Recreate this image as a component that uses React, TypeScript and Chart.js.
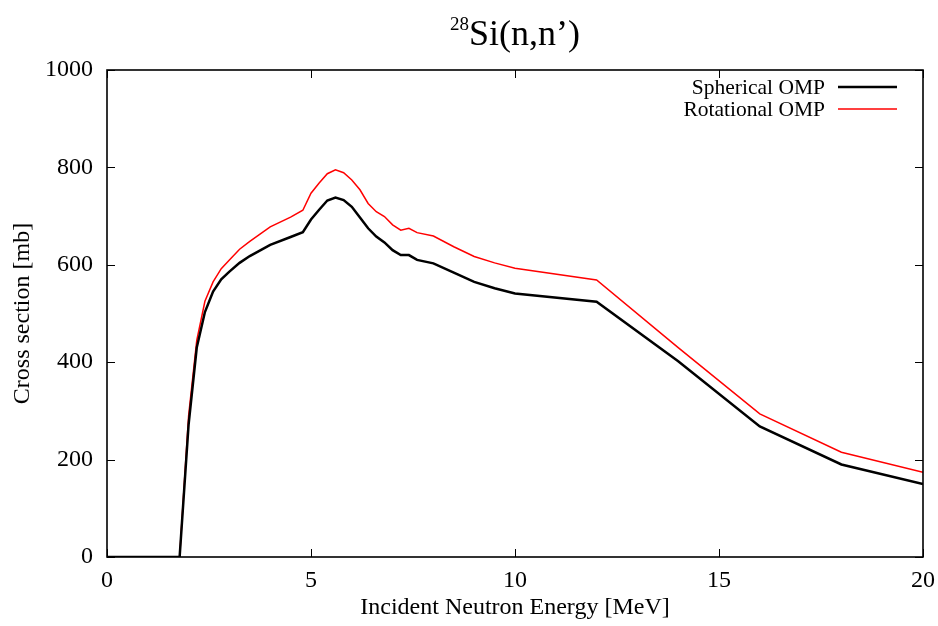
import React, { useEffect, useRef } from "react";
import { Chart, registerables } from "chart.js";

Chart.register(...registerables);

const energies = [0, 1.78, 2.0, 2.2, 2.4, 2.6, 2.8, 3.0, 3.25, 3.5, 4.0, 4.5, 4.8, 5.0, 5.2, 5.4, 5.6, 5.8, 6.0, 6.2, 6.4, 6.6, 6.8, 7.0, 7.2, 7.4, 7.6, 8.0, 8.5, 9.0, 9.5, 10, 12, 14, 16, 18, 20];
const spherical = [0, 0, 272, 430, 503, 545, 570, 586, 604, 618, 641, 657, 667, 693, 713, 732, 738, 733, 719, 697, 675, 658, 646, 630, 620, 620, 610, 603, 584, 565, 552, 541, 524, 402, 268, 190, 150];
const rotational = [0, 0, 290, 445, 525, 565, 592, 610, 632, 648, 678, 698, 712, 747, 768, 787, 795, 789, 774, 754, 726, 709, 699, 682, 671, 675, 666, 659, 637, 617, 604, 593, 569, 430, 294, 215, 174];
const xTicks = [0, 5, 10, 15, 20];
const yTicks = [0, 200, 400, 600, 800, 1000];
const seriesNames = ["Spherical OMP", "Rotational OMP"];
const seriesColors = ["#000000", "#ff0000"];
const seriesWidths = [2.5, 1.5];
const titleSup = "28";
const titleMain = "Si(n,n\u2019)";
const xTitle = "Incident Neutron Energy [MeV]";
const yTitle = "Cross section [mb]";

const FONT = "'Liberation Serif', 'Times New Roman', serif";

const framePlugin = {
  id: "frameTicks",
  afterDraw(chart: any) {
    const { ctx, chartArea: a, scales } = chart;
    const L = 8;
    ctx.save();
    ctx.strokeStyle = "#000";
    ctx.lineWidth = 1;
    ctx.beginPath();
    xTicks.forEach((v) => {
      const x = Math.round(scales.x.getPixelForValue(v)) + 0.5;
      ctx.moveTo(x, a.bottom);
      ctx.lineTo(x, a.bottom - L);
      ctx.moveTo(x, a.top);
      ctx.lineTo(x, a.top + L);
    });
    yTicks.forEach((v) => {
      const y = Math.round(scales.y.getPixelForValue(v)) + 0.5;
      ctx.moveTo(a.left, y);
      ctx.lineTo(a.left + L, y);
      ctx.moveTo(a.right, y);
      ctx.lineTo(a.right - L, y);
    });
    ctx.stroke();
    ctx.lineWidth = 1.6;
    ctx.strokeRect(a.left, a.top, a.right - a.left, a.bottom - a.top);

    // title
    ctx.fillStyle = "#000";
    ctx.textBaseline = "alphabetic";
    ctx.font = `19px ${FONT}`;
    const wSup = ctx.measureText(titleSup).width;
    ctx.font = `36px ${FONT}`;
    const wMain = ctx.measureText(titleMain).width;
    const cx = (a.left + a.right) / 2;
    const x0 = cx - (wSup + wMain) / 2;
    ctx.font = `19px ${FONT}`;
    ctx.textAlign = "left";
    ctx.fillText(titleSup, x0, 30);
    ctx.font = `36px ${FONT}`;
    ctx.fillText(titleMain, x0 + wSup, 45);

    // legend
    ctx.font = `21.5px ${FONT}`;
    ctx.textAlign = "right";
    ctx.textBaseline = "middle";
    const rows = [87, 109];
    seriesNames.forEach((n, i) => {
      const y = rows[i];
      ctx.fillStyle = "#000";
      ctx.fillText(n, a.right - 98, y + 1);
      ctx.strokeStyle = seriesColors[i];
      ctx.lineWidth = seriesWidths[i];
      ctx.beginPath();
      ctx.moveTo(a.right - 85, y);
      ctx.lineTo(a.right - 26, y);
      ctx.stroke();
    });
    ctx.restore();
  },
};

export default function App() {
  const ref = useRef<HTMLCanvasElement>(null);
  useEffect(() => {
    if (!ref.current) return;
    const chart = new Chart(ref.current, {
      type: "line",
      data: {
        datasets: seriesNames.map((n, i) => ({
          label: n,
          data: energies.map((e, j) => ({ x: e, y: (i === 0 ? spherical : rotational)[j] })),
          borderColor: seriesColors[i],
          borderWidth: seriesWidths[i],
          pointRadius: 0,
          tension: 0,
          fill: false,
        })),
      },
      options: {
        animation: false,
        responsive: true,
        maintainAspectRatio: false,
        layout: { padding: { top: 70, right: 15, left: 0, bottom: 0 } },
        plugins: { legend: { display: false }, title: { display: false }, tooltip: { enabled: false } },
        scales: {
          x: {
            type: "linear",
            min: 0,
            max: 20,
            afterFit: (s: any) => { s.height = 69; s.paddingRight = 0; s.paddingLeft = 0; },
            afterBuildTicks: (s: any) => { s.ticks = xTicks.map((v) => ({ value: v })); },
            grid: { display: false, drawTicks: false },
            border: { display: false },
            ticks: { color: "#000", font: { family: FONT, size: 24 }, padding: 9, maxRotation: 0, callback: (v: any) => String(v) },
            title: { display: true, text: xTitle, color: "#000", font: { family: FONT, size: 24 }, padding: { top: 0, bottom: 4 } },
          },
          y: {
            type: "linear",
            min: 0,
            max: 1000,
            afterFit: (s: any) => { s.width = 107; s.paddingTop = 0; s.paddingBottom = 0; },
            afterBuildTicks: (s: any) => { s.ticks = yTicks.map((v) => ({ value: v })); },
            grid: { display: false, drawTicks: false },
            border: { display: false },
            ticks: { color: "#000", font: { family: FONT, size: 24 }, padding: 14, callback: (v: any) => String(v) },
            title: { display: true, text: yTitle, color: "#000", font: { family: FONT, size: 24 }, padding: { top: 8, bottom: 0 } },
          },
        },
      },
      plugins: [framePlugin],
    });
    return () => chart.destroy();
  }, []);
  return (
    <div style={{ position: "fixed", left: 0, top: 0, width: 938, height: 626, background: "#fff" }}>
      <canvas ref={ref} />
    </div>
  );
}
